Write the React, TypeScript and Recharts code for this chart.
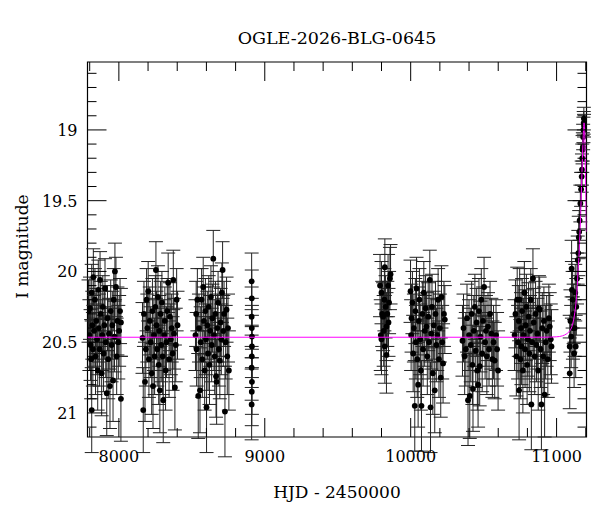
import React from 'react';
import { ScatterChart, Scatter, XAxis, YAxis, ErrorBar, ReferenceArea } from 'recharts';

// [HJD-2450000, I mag, error]
const season1: number[][] = [
  [7792, 20.28, 0.22], [7798, 20.45, 0.25], [7802, 20.26, 0.22], [7806, 20.52, 0.25], [7810, 20.62, 0.28],
  [7814, 20.15, 0.2], [7814, 20.98, 0.3], [7818, 20.38, 0.24], [7822, 20.55, 0.26], [7825, 20.04, 0.2],
  [7830, 20.42, 0.25], [7836, 20.2, 0.22], [7840, 20.6, 0.27], [7845, 20.35, 0.23], [7850, 20.48, 0.25],
  [7855, 20.7, 0.28], [7859, 20.13, 0.21], [7863, 20.4, 0.24], [7868, 20.55, 0.26], [7871, 20.06, 0.2],
  [7876, 20.3, 0.23], [7882, 20.72, 0.3], [7886, 20.45, 0.25], [7890, 20.25, 0.22], [7895, 20.58, 0.27],
  [7900, 20.38, 0.24], [7905, 20.12, 0.21], [7910, 20.5, 0.25], [7917, 20.86, 0.3], [7922, 20.33, 0.23],
  [7927, 20.62, 0.28], [7932, 20.44, 0.25], [7939, 20.81, 0.3], [7944, 20.28, 0.22], [7950, 20.52, 0.26],
  [7955, 20.38, 0.24], [7960, 20.77, 0.29], [7965, 20.2, 0.22], [7970, 20.46, 0.25], [7973, 20.0, 0.2],
  [7980, 20.11, 0.21], [7985, 20.6, 0.27], [7990, 20.35, 0.24], [7996, 20.5, 0.26], [8002, 20.42, 0.25],
  [8008, 20.28, 0.23], [8014, 20.36, 0.24], [8014, 20.9, 0.3],
];

const season2: number[][] = [
  [8162, 20.47, 0.25], [8167, 20.98, 0.3], [8172, 20.3, 0.23], [8179, 20.78, 0.28], [8185, 20.55, 0.26],
  [8190, 20.2, 0.22], [8195, 20.4, 0.24], [8201, 20.14, 0.21], [8206, 20.62, 0.27], [8212, 20.35, 0.24],
  [8218, 20.5, 0.25], [8225, 20.72, 0.29], [8230, 20.28, 0.23], [8234, 20.81, 0.3], [8240, 20.45, 0.25],
  [8245, 20.6, 0.27], [8250, 20.25, 0.22], [8254, 19.99, 0.2], [8258, 20.38, 0.24], [8263, 20.55, 0.26],
  [8268, 20.18, 0.22], [8273, 20.66, 0.28], [8277, 20.42, 0.25], [8281, 20.84, 0.3], [8286, 20.3, 0.23],
  [8290, 20.52, 0.26], [8295, 20.22, 0.22], [8300, 20.6, 0.27], [8304, 20.91, 0.3], [8310, 20.45, 0.25],
  [8315, 20.35, 0.24], [8320, 20.7, 0.28], [8326, 20.5, 0.25], [8332, 20.28, 0.23], [8338, 20.08, 0.21],
  [8344, 20.62, 0.27], [8350, 20.32, 0.24], [8356, 20.48, 0.25], [8362, 20.4, 0.24], [8368, 20.58, 0.26],
  [8373, 20.06, 0.21], [8378, 20.44, 0.25], [8384, 20.82, 0.3], [8390, 20.52, 0.26], [8396, 20.2, 0.22],
  [8402, 20.38, 0.24],
];

const season3: number[][] = [
  [8525, 20.45, 0.25], [8530, 20.3, 0.23], [8533, 20.55, 0.26], [8538, 20.2, 0.22], [8544, 20.88, 0.3],
  [8549, 20.4, 0.24], [8556, 20.84, 0.3], [8561, 20.5, 0.25], [8567, 20.2, 0.22], [8572, 20.62, 0.27],
  [8578, 20.11, 0.21], [8583, 20.35, 0.24], [8588, 20.7, 0.28], [8593, 20.28, 0.23], [8597, 20.48, 0.25],
  [8601, 20.96, 0.32], [8606, 20.38, 0.24], [8611, 20.58, 0.26], [8616, 20.25, 0.22], [8621, 20.66, 0.28],
  [8626, 20.42, 0.25], [8631, 20.18, 0.22], [8636, 20.52, 0.26], [8641, 20.33, 0.24], [8647, 19.91, 0.2],
  [8652, 20.45, 0.25], [8657, 20.6, 0.27], [8662, 20.3, 0.23], [8666, 20.74, 0.29], [8670, 20.78, 0.3],
  [8675, 20.4, 0.24], [8680, 20.22, 0.22], [8686, 20.55, 0.26], [8692, 20.63, 0.27], [8697, 20.36, 0.24],
  [8702, 20.48, 0.25], [8706, 20.15, 0.21], [8711, 19.99, 0.2], [8716, 20.42, 0.25], [8721, 20.3, 0.23],
  [8727, 20.99, 0.32], [8732, 20.5, 0.26], [8738, 20.27, 0.23], [8743, 20.6, 0.27], [8748, 20.4, 0.24],
  [8754, 20.7, 0.28],
];

const season3b: number[][] = [
  [8910, 20.07, 0.2], [8911, 20.19, 0.2], [8910, 20.32, 0.21], [8911, 20.4, 0.21], [8912, 20.46, 0.22],
  [8912, 20.53, 0.22], [8911, 20.6, 0.22], [8910, 20.68, 0.23], [8912, 20.78, 0.23], [8911, 20.85, 0.24],
  [8910, 20.94, 0.25],
];

const season4: number[][] = [
  [9790, 20.1, 0.22], [9795, 20.45, 0.25], [9800, 20.15, 0.22], [9800, 20.48, 0.25], [9805, 20.3, 0.23],
  [9811, 20.32, 0.24], [9815, 20.42, 0.25], [9820, 20.2, 0.22], [9823, 19.97, 0.2], [9823, 20.53, 0.26],
  [9828, 20.25, 0.22], [9834, 20.39, 0.24], [9834, 20.59, 0.27], [9840, 20.3, 0.23], [9845, 20.1, 0.22],
  [9848, 20.36, 0.24], [9852, 20.22, 0.22], [9858, 20.05, 0.22], [9862, 20.02, 0.21],
];

const season5: number[][] = [
  [9999, 20.14, 0.22], [10003, 20.45, 0.25], [10006, 20.33, 0.24], [10012, 20.22, 0.22], [10017, 20.58, 0.27],
  [10022, 20.4, 0.24], [10028, 20.95, 0.32], [10032, 20.28, 0.23], [10036, 20.5, 0.26], [10040, 20.12, 0.22],
  [10045, 20.62, 0.27], [10051, 20.8, 0.3], [10056, 20.35, 0.24], [10060, 20.2, 0.22], [10065, 20.48, 0.25],
  [10070, 20.7, 0.28], [10074, 20.95, 0.32], [10080, 20.3, 0.23], [10085, 20.55, 0.26], [10090, 20.15, 0.22],
  [10096, 20.42, 0.25], [10102, 20.26, 0.23], [10108, 20.39, 0.24], [10114, 20.6, 0.27], [10120, 20.32, 0.24],
  [10126, 20.5, 0.26], [10131, 20.06, 0.21], [10136, 20.96, 0.32], [10141, 20.44, 0.25], [10146, 20.25, 0.23],
  [10152, 20.72, 0.29], [10158, 20.38, 0.24], [10165, 20.84, 0.3], [10170, 20.3, 0.23], [10176, 20.52, 0.26],
  [10182, 20.45, 0.25], [10188, 20.2, 0.22], [10194, 20.62, 0.27], [10200, 20.4, 0.24], [10206, 20.75, 0.28],
  [10211, 20.18, 0.22], [10216, 20.5, 0.26], [10222, 20.65, 0.28], [10228, 20.3, 0.23], [10234, 20.34, 0.24],
];

const season6: number[][] = [
  [10355, 20.49, 0.25], [10362, 20.4, 0.24], [10370, 20.6, 0.27], [10378, 20.55, 0.26], [10386, 20.33, 0.24],
  [10393, 20.91, 0.32], [10400, 20.45, 0.25], [10405, 20.88, 0.3], [10412, 20.52, 0.26], [10418, 20.3, 0.23],
  [10423, 20.66, 0.28], [10427, 20.83, 0.3], [10433, 20.42, 0.25], [10440, 20.25, 0.23], [10446, 20.56, 0.26],
  [10452, 20.36, 0.24], [10457, 20.7, 0.28], [10462, 20.8, 0.3], [10468, 20.28, 0.23], [10473, 20.67, 0.28],
  [10478, 20.46, 0.25], [10484, 20.2, 0.22], [10490, 20.58, 0.27], [10496, 20.35, 0.24], [10503, 20.11, 0.21],
  [10510, 20.5, 0.26], [10516, 20.42, 0.25], [10522, 20.6, 0.27], [10530, 20.39, 0.24], [10537, 20.55, 0.26],
  [10544, 20.3, 0.23], [10553, 20.44, 0.25], [10560, 20.62, 0.27], [10568, 20.5, 0.26], [10576, 20.63, 0.27],
  [10585, 20.45, 0.25], [10592, 20.55, 0.26], [10599, 20.7, 0.28],
];

const season7: number[][] = [
  [10712, 20.45, 0.25], [10718, 20.3, 0.24], [10724, 20.6, 0.28], [10730, 20.2, 0.23], [10736, 20.5, 0.26],
  [10741, 20.35, 0.25], [10743, 20.84, 0.35], [10747, 20.2, 0.22], [10752, 20.62, 0.28], [10756, 20.4, 0.25],
  [10759, 20.53, 0.27], [10764, 20.28, 0.23], [10769, 20.7, 0.3], [10774, 20.45, 0.26], [10779, 20.15, 0.22],
  [10784, 20.55, 0.27], [10788, 20.38, 0.25], [10793, 20.25, 0.23], [10798, 20.66, 0.28], [10803, 20.48, 0.26],
  [10808, 20.32, 0.24], [10813, 20.58, 0.27], [10818, 20.42, 0.25], [10823, 20.2, 0.22], [10827, 20.94, 0.32],
  [10832, 20.5, 0.26], [10838, 20.05, 0.21], [10843, 20.36, 0.24], [10850, 20.6, 0.27], [10856, 20.3, 0.23],
  [10862, 20.52, 0.26], [10868, 20.44, 0.25], [10874, 20.7, 0.28], [10879, 20.26, 0.23], [10884, 20.27, 0.23],
  [10890, 20.55, 0.27], [10896, 20.94, 0.32], [10902, 20.4, 0.25], [10908, 20.6, 0.27], [10913, 20.35, 0.24],
  [10918, 20.87, 0.3], [10925, 20.5, 0.26], [10932, 20.42, 0.25], [10940, 20.62, 0.27], [10947, 20.33, 0.24],
  [10953, 20.39, 0.24], [10960, 20.48, 0.25], [10965, 20.53, 0.26],
];

const season8: number[][] = [
  [11090, 20.72, 0.25], [11090, 20.53, 0.22], [11095, 20.35, 0.22], [11100, 20.46, 0.22], [11103, 19.98, 0.2],
  [11105, 20.13, 0.2], [11110, 20.2, 0.2], [11112, 20.4, 0.22], [11117, 20.3, 0.21], [11120, 20.58, 0.24],
  [11124, 20.4, 0.2], [11128, 20.15, 0.2], [11131, 20.53, 0.22], [11135, 20.25, 0.2], [11140, 20.05, 0.18],
  [11145, 19.92, 0.17], [11149, 19.87, 0.16], [11152, 19.76, 0.15], [11155, 19.72, 0.15], [11158, 19.64, 0.14],
  [11163, 19.52, 0.13], [11168, 19.42, 0.12], [11172, 19.33, 0.11], [11174, 19.28, 0.11], [11176, 19.2, 0.1],
  [11178, 19.14, 0.1], [11180, 19.12, 0.1], [11182, 19.05, 0.09], [11184, 19.0, 0.09], [11186, 18.95, 0.08],
  [11187, 18.92, 0.08], [11188, 18.97, 0.08],
];

// model light curve: [HJD-2450000, I mag]
const modelCurve: number[][] = [
  [7785, 20.465], [10900, 20.465], [11000, 20.462], [11040, 20.455], [11070, 20.44], [11090, 20.42],
  [11105, 20.39], [11115, 20.35], [11125, 20.29], [11135, 20.2], [11142, 20.1], [11148, 19.98],
  [11153, 19.9], [11158, 19.78], [11163, 19.66], [11168, 19.5], [11174, 19.3], [11178, 19.17],
  [11182, 19.06], [11185, 18.99], [11188, 18.95], [11191, 18.97], [11194, 19.08], [11197, 19.25],
  [11200, 19.45], [11203, 19.65], [11205, 19.72],
];

const xTicks = [7800, 8000, 8200, 8400, 8600, 8800, 9000, 9200, 9400, 9600, 9800, 10000, 10200, 10400, 10600, 10800, 11000, 11200];
const xMajor = [8000, 9000, 10000, 11000];
const yTicks = [18.6, 18.7, 18.8, 18.9, 19, 19.1, 19.2, 19.3, 19.4, 19.5, 19.6, 19.7, 19.8, 19.9, 20, 20.1, 20.2, 20.3, 20.4, 20.5, 20.6, 20.7, 20.8, 20.9, 21, 21.1];
const yMajor = [19, 19.5, 20, 20.5, 21];
const xDomain = [7785, 11205];
const yDomain = [18.52, 21.17];

const TITLE = 'OGLE-2026-BLG-0645';
const XLABEL = 'HJD - 2450000';
const YLABEL = 'I magnitude';

const W = 592;
const H = 504;
const MARGIN = { top: 54, right: 13.5, bottom: 25, left: 19.5 };
const YAXIS_W = 60;
const XAXIS_H = 50;
const PLOT_TOP = MARGIN.top;
const PLOT_RIGHT = W - MARGIN.right;
const FONT = '"DejaVu Serif", serif';
const FS = 16;
const MAJOR_LEN = 19;
const MINOR_LEN = 9;

const toPts = (arr: number[][]) => arr.map(([t, mag, err]) => ({ t, mag, err }));
const obs = [season1, season2, season3, season3b, season4, season5, season6, season7, season8].flatMap(toPts);
const model = modelCurve.map(([t, mag]) => ({ t, mag }));

const isMajorX = (v: number) => xMajor.some((m) => Math.abs(m - v) < 1e-6);
const isMajorY = (v: number) => yMajor.some((m) => Math.abs(m - v) < 1e-6);

const XTick = (props: any) => {
  const { x, y, payload } = props;
  const v = payload.value;
  const major = isMajorX(v);
  const len = major ? MAJOR_LEN : MINOR_LEN;
  return (
    <g>
      <line x1={x} x2={x} y1={y} y2={y - len} stroke="#000" strokeWidth={1} />
      <line x1={x} x2={x} y1={PLOT_TOP} y2={PLOT_TOP + len} stroke="#000" strokeWidth={1} />
      {major && (
        <text x={x} y={y + 25} textAnchor="middle" fontFamily={FONT} fontSize={FS} fill="#000">
          {v}
        </text>
      )}
    </g>
  );
};

const YTick = (props: any) => {
  const { x, y, payload } = props;
  const v = payload.value;
  const major = isMajorY(v);
  const len = major ? MAJOR_LEN : MINOR_LEN;
  return (
    <g>
      <line x1={x} x2={x + len} y1={y} y2={y} stroke="#000" strokeWidth={1} />
      <line x1={PLOT_RIGHT} x2={PLOT_RIGHT - len} y1={y} y2={y} stroke="#000" strokeWidth={1} />
      {major && (
        <text x={x - 10} y={y + 6} textAnchor="end" fontFamily={FONT} fontSize={FS} fill="#000">
          {String(v)}
        </text>
      )}
    </g>
  );
};

const Dot = (props: any) => {
  const { cx, cy } = props;
  if (cx == null || cy == null) return <g />;
  return <circle cx={cx} cy={cy} r={2.9} fill="#000" />;
};

const NoDot = () => <g />;

export default function App() {
  return (
    <div style={{ width: W, height: H, background: '#fff' }}>
      <ScatterChart width={W} height={H} margin={MARGIN}>
        <XAxis
          type="number"
          dataKey="t"
          domain={xDomain}
          allowDataOverflow
          ticks={xTicks}
          interval={0}
          tick={<XTick />}
          tickLine={false}
          axisLine={false}
          tickSize={0}
          tickMargin={0}
          height={XAXIS_H}
          label={{
            content: (p: any) => {
              const vb = p.viewBox || {};
              return (
                <text
                  x={vb.x + vb.width / 2}
                  y={vb.y + 61}
                  textAnchor="middle"
                  fontFamily={FONT}
                  fontSize={17}
                  fill="#000"
                >
                  {XLABEL}
                </text>
              );
            },
          }}
        />
        <YAxis
          type="number"
          dataKey="mag"
          domain={yDomain}
          reversed
          allowDataOverflow
          ticks={yTicks}
          interval={0}
          tick={<YTick />}
          tickLine={false}
          axisLine={false}
          tickSize={0}
          tickMargin={0}
          width={YAXIS_W}
          label={{
            content: (p: any) => {
              const vb = p.viewBox || {};
              const cx = vb.x - 5.5;
              const cy = vb.y + vb.height / 2 - 3;
              return (
                <text
                  x={cx}
                  y={cy}
                  transform={`rotate(-90 ${cx} ${cy})`}
                  textAnchor="middle"
                  dominantBaseline="central"
                  fontFamily={FONT}
                  fontSize={17}
                  fill="#000"
                >
                  {YLABEL}
                </text>
              );
            },
          }}
        />
        <Scatter data={obs} shape={<Dot />} isAnimationActive={false}>
          <ErrorBar dataKey="err" direction="y" width={7} stroke="#222" strokeWidth={1} isAnimationActive={false} />
        </Scatter>
        <Scatter
          data={model}
          shape={<NoDot />}
          line={{ stroke: '#ff00ff', strokeWidth: 1 }}
          lineJointType="monotoneX"
          isAnimationActive={false}
        />
        <ReferenceArea
          x1={xDomain[0]}
          x2={xDomain[1]}
          y1={yDomain[0]}
          y2={yDomain[1]}
          ifOverflow="visible"
          fill="none"
          fillOpacity={0}
          stroke="#000"
          strokeWidth={1.2}
          label={{
            content: (p: any) => {
              const vb = p.viewBox || {};
              return (
                <text
                  x={vb.x + vb.width / 2}
                  y={vb.y - 18}
                  textAnchor="middle"
                  fontFamily={FONT}
                  fontSize={17.5}
                  fill="#000"
                >
                  {TITLE}
                </text>
              );
            },
          }}
        />
      </ScatterChart>
    </div>
  );
}
